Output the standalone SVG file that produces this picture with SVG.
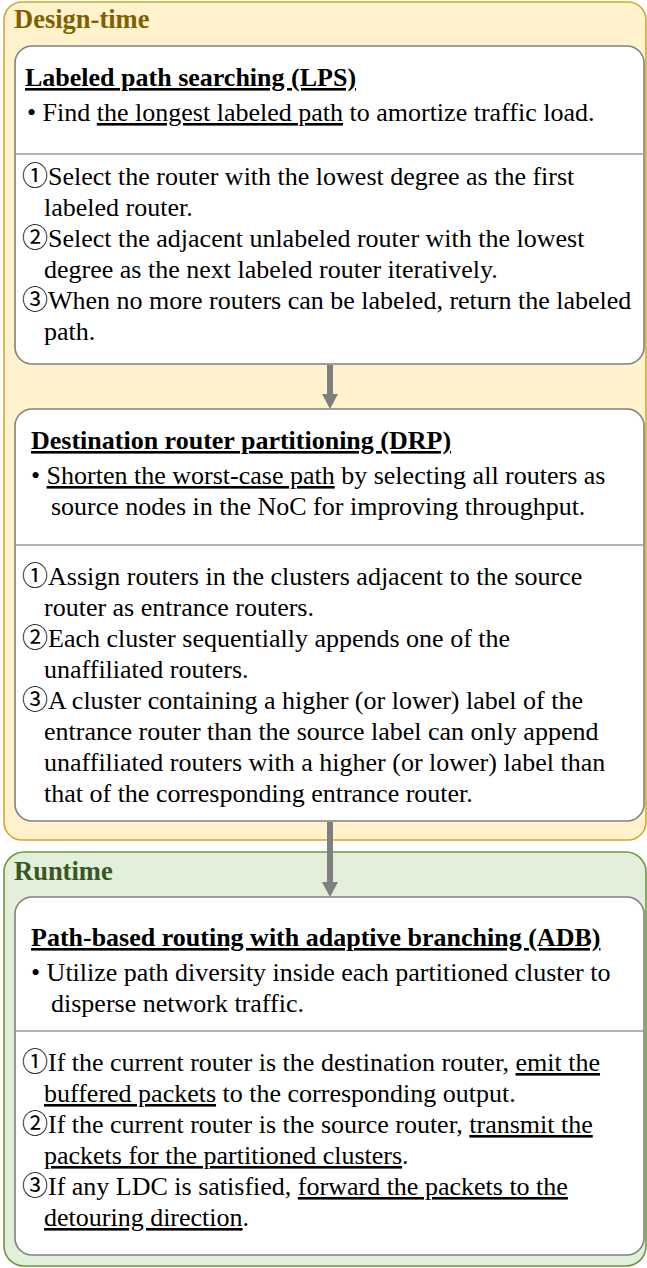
<svg xmlns="http://www.w3.org/2000/svg" width="647" height="1268" viewBox="0 0 647 1268">
<defs>
<style>
.t{font-family:"Liberation Serif","Noto Sans CJK JP",serif;font-size:26px;fill:#000}
.h{font-family:"Liberation Serif",serif;font-size:26px;font-weight:bold;fill:#000;text-decoration:underline}
.g{font-family:"Liberation Serif",serif;font-size:26.5px;font-weight:bold}
.u{text-decoration:underline}
.inner{fill:#fff;stroke:#808080;stroke-width:1.6}
.div{stroke:#9a9a9a;stroke-width:1.5}
.arr{stroke:#7f7f7f;stroke-width:6;fill:none}
</style>
<marker id="ah" markerWidth="16" markerHeight="16" refX="0" refY="8" orient="auto" markerUnits="userSpaceOnUse">
<path d="M0,0 L15,8 L0,16 z" fill="#7f7f7f"/>
</marker>
</defs>
<g id="design-time">
<rect x="4" y="2" width="642" height="838" rx="18" fill="#fff2cc" stroke="#d4a72c" stroke-width="1.6"/>
<text class="g" x="14" y="28" fill="#7f6000">Design-time</text>
</g>
<g id="runtime">
<rect x="4" y="852" width="642" height="414" rx="20" fill="#e2efda" stroke="#6a9a3c" stroke-width="1.6"/>
<text class="g" x="14" y="880" fill="#385723">Runtime</text>
</g>
<g id="lps">
<rect class="inner" x="15" y="46" width="629" height="318" rx="17"/>
<line class="div" x1="15" y1="154" x2="644" y2="154"/>
<text class="h" x="25" y="86">Labeled path searching (LPS)</text>
<text class="t" x="27" y="121">• Find <tspan class="u">the longest labeled path</tspan> to amortize traffic load.</text>
<text class="t" x="22" y="185">①Select the router with the lowest degree as the first</text>
<text class="t" x="44" y="216">labeled router.</text>
<text class="t" x="22" y="247">②Select the adjacent unlabeled router with the lowest</text>
<text class="t" x="44" y="278">degree as the next labeled router iteratively.</text>
<text class="t" x="22" y="309">③When no more routers can be labeled, return the labeled</text>
<text class="t" x="44" y="340">path.</text>
</g>
<g id="drp">
<rect class="inner" x="15" y="409" width="629" height="412" rx="17"/>
<line class="div" x1="15" y1="545" x2="644" y2="545"/>
<text class="h" x="31" y="449">Destination router partitioning (DRP)</text>
<text class="t" x="31" y="484">• <tspan class="u">Shorten the worst-case path</tspan> by selecting all routers as</text>
<text class="t" x="51" y="515">source nodes in the NoC for improving throughput.</text>
<text class="t" x="22" y="585">①Assign routers in the clusters adjacent to the source</text>
<text class="t" x="44" y="616">router as entrance routers.</text>
<text class="t" x="22" y="647">②Each cluster sequentially appends one of the</text>
<text class="t" x="44" y="678">unaffiliated routers.</text>
<text class="t" x="22" y="709">③A cluster containing a higher (or lower) label of the</text>
<text class="t" x="44" y="740">entrance router than the source label can only append</text>
<text class="t" x="44" y="771">unaffiliated routers with a higher (or lower) label than</text>
<text class="t" x="44" y="802">that of the corresponding entrance router.</text>
</g>
<g id="adb">
<rect class="inner" x="15" y="897" width="629" height="358" rx="17"/>
<line class="div" x1="15" y1="1031" x2="644" y2="1031"/>
<text class="h" x="31" y="946">Path-based routing with adaptive branching (ADB)</text>
<text class="t" x="31" y="981">• Utilize path diversity inside each partitioned cluster to</text>
<text class="t" x="51" y="1012">disperse network traffic.</text>
<text class="t" x="22" y="1071">①If the current router is the destination router, <tspan class="u">emit the</tspan></text>
<text class="t" x="44" y="1102"><tspan class="u">buffered packets</tspan> to the corresponding output.</text>
<text class="t" x="22" y="1133">②If the current router is the source router, <tspan class="u">transmit the</tspan></text>
<text class="t" x="44" y="1164"><tspan class="u">packets for the partitioned clusters</tspan>.</text>
<text class="t" x="22" y="1195">③If any LDC is satisfied, <tspan class="u">forward the packets to the</tspan></text>
<text class="t" x="44" y="1226"><tspan class="u">detouring direction</tspan>.</text>
</g>
<g id="connectors">
<line class="arr" x1="330" y1="365" x2="330" y2="394" marker-end="url(#ah)"/>
<line class="arr" x1="330" y1="822" x2="330" y2="882" marker-end="url(#ah)"/>
</g>
</svg>
